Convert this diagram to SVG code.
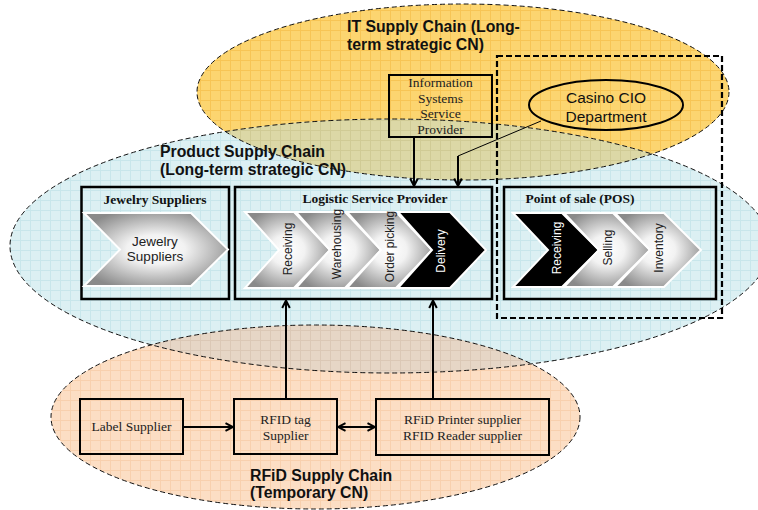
<svg xmlns="http://www.w3.org/2000/svg" width="758" height="510" viewBox="0 0 758 510">
<style>
.outline{fill:none;stroke:#111;stroke-width:1;stroke-dasharray:5,3}
.box{fill:none;stroke:#000;stroke-width:2.5}
.sbox{fill:none;stroke:#000;stroke-width:2}
.title{font-family:"Liberation Sans",Arial,sans-serif;font-weight:bold;font-size:15.8px;fill:#111}
.btitle{font-family:"Liberation Serif","Times New Roman",serif;font-weight:bold;font-size:13.5px;fill:#111;text-anchor:middle}
.serif{font-family:"Liberation Serif","Times New Roman",serif;font-size:13.5px;fill:#222;text-anchor:middle}
.chev{fill:url(#grad);stroke:#fff;stroke-width:2}
.chevb{fill:#000;stroke:#fff;stroke-width:2}
.ct{font-family:"Liberation Sans",Arial,sans-serif;font-size:12px;fill:#222;text-anchor:middle}
.ctw{font-family:"Liberation Sans",Arial,sans-serif;font-size:12px;fill:#fff;text-anchor:middle}
.sans{font-family:"Liberation Sans",Arial,sans-serif;font-size:13.5px;fill:#222;text-anchor:middle}
</style>
<defs>
<pattern id="pY" patternUnits="userSpaceOnUse" width="10" height="10"><rect width="10" height="10" fill="#FCD570"/><path d="M0,0.5H10M0.5,0V10" stroke="#F7C555" stroke-width="1"/></pattern>
<pattern id="pB" patternUnits="userSpaceOnUse" width="10" height="10"><rect width="10" height="10" fill="#DCF0F3"/><path d="M0,0.5H10M0.5,0V10" stroke="#C8E6EB" stroke-width="1"/></pattern>
<pattern id="pO" patternUnits="userSpaceOnUse" width="10" height="10"><rect width="10" height="10" fill="#FCDEC4"/><path d="M0,0.5H10M0.5,0V10" stroke="#F8D0AE" stroke-width="1"/></pattern>
<pattern id="pYB" patternUnits="userSpaceOnUse" width="10" height="10"><rect width="10" height="10" fill="#DCD8A6"/><path d="M0,0.5H10M0.5,0V10" stroke="#D0CB95" stroke-width="1"/></pattern>
<pattern id="pBO" patternUnits="userSpaceOnUse" width="10" height="10"><rect width="10" height="10" fill="#E6D6C6"/><path d="M0,0.5H10M0.5,0V10" stroke="#DBC8B6" stroke-width="1"/></pattern>
<clipPath id="cB"><ellipse cx="390" cy="246" rx="380" ry="127"/></clipPath>
<radialGradient id="grad" cx="50%" cy="50%" r="58%"><stop offset="0" stop-color="#ffffff"/><stop offset="0.35" stop-color="#f2f2f2"/><stop offset="1" stop-color="#8a8a8a"/></radialGradient>
<marker id="arr" viewBox="0 0 10 10" refX="8.5" refY="5" markerWidth="10" markerHeight="10" markerUnits="userSpaceOnUse" orient="auto-start-reverse"><path d="M1,1.2 L8.5,5 L1,8.8" fill="none" stroke="#000" stroke-width="2"/></marker>
</defs>

<g id="chains">
<ellipse cx="463" cy="92" rx="266" ry="88" fill="url(#pY)"/>
<ellipse cx="390" cy="246" rx="380" ry="127" fill="url(#pB)"/>
<ellipse cx="315.5" cy="417" rx="264.5" ry="92" fill="url(#pO)"/>
<g clip-path="url(#cB)">
<ellipse cx="463" cy="92" rx="266" ry="88" fill="url(#pYB)"/>
<ellipse cx="315.5" cy="417" rx="264.5" ry="92" fill="url(#pBO)"/>
</g>
<ellipse class="outline" cx="463" cy="92" rx="266" ry="88"/>
<ellipse class="outline" cx="390" cy="246" rx="380" ry="127"/>
<ellipse class="outline" cx="315.5" cy="417" rx="264.5" ry="92"/>
<text class="title" x="347" y="32">IT Supply Chain (Long-</text>
<text class="title" x="347" y="50">term strategic CN)</text>
<text class="title" x="160" y="157">Product Supply Chain</text>
<text class="title" x="160" y="175">(Long-term strategic CN)</text>
<text class="title" x="250" y="481">RFiD Supply Chain</text>
<text class="title" x="250" y="498">(Temporary CN)</text>
</g>

<g id="cio-scope">
<rect x="497" y="56" width="225" height="262" fill="none" stroke="#000" stroke-width="2.2" stroke-dasharray="6,3"/>
</g>

<g id="casino-cio">
<ellipse cx="606" cy="105" rx="77" ry="25" fill="none" stroke="#000" stroke-width="2"/>
<text x="606" y="103" font-family="Liberation Sans, Arial, sans-serif" font-size="15.5" fill="#111" text-anchor="middle">Casino CIO</text>
<text x="606" y="121.5" font-family="Liberation Sans, Arial, sans-serif" font-size="15.5" fill="#111" text-anchor="middle">Department</text>
</g>

<g id="info-systems">
<rect class="sbox" x="389" y="75" width="103" height="62"/>
<text class="serif" x="440.5" y="87">Information</text>
<text class="serif" x="440.5" y="102.5">Systems</text>
<text class="serif" x="440.5" y="118">Service</text>
<text class="serif" x="440.5" y="134">Provider</text>
</g>

<g id="jewelry-suppliers">
<rect class="box" x="81.5" y="187" width="147.5" height="112"/>
<text class="btitle" x="155" y="204">Jewelry Suppliers</text>
<polygon class="chev" points="84,213 191,213 228,249.5 191,286 84,286 120,249.5"/>
<text class="sans" x="155" y="245.5">Jewelry</text>
<text class="sans" x="155" y="260.5">Suppliers</text>
</g>

<g id="logistic-service-provider">
<rect class="box" x="235" y="187" width="257" height="112"/>
<text class="btitle" x="375" y="203">Logistic Service Provider</text>
<polygon class="chev" points="245,212 294,212 330,250 294,288 245,288 279,250"/>
<polygon class="chev" points="296,212 345,212 381,250 345,288 296,288 330,250"/>
<polygon class="chev" points="347,212 396,212 432,250 396,288 347,288 381,250"/>
<polygon class="chevb" points="398,212 450,212 486,250 450,288 398,288 432,250"/>
<text class="ct" transform="translate(291.5,249) rotate(-90)">Receiving</text>
<text class="ct" transform="translate(341,244) rotate(-90)">Warehousing</text>
<text class="ct" transform="translate(393.5,246.5) rotate(-90)">Order picking</text>
<text class="ctw" transform="translate(444.5,251) rotate(-90)">Delivery</text>
</g>

<g id="point-of-sale">
<rect class="box" x="504" y="187" width="212" height="112"/>
<text class="btitle" x="580" y="202.5">Point of sale (POS)</text>
<polygon class="chevb" points="513,213 562,213 599,250 562,287 513,287 548,250"/>
<polygon class="chev" points="564,213 613,213 650,250 613,287 564,287 599,250"/>
<polygon class="chev" points="615,213 664,213 701,250 664,287 615,287 650,250"/>
<text class="ctw" transform="translate(560.5,248) rotate(-90)">Receiving</text>
<text class="ct" transform="translate(611.5,247.5) rotate(-90)">Selling</text>
<text class="ct" transform="translate(662.5,248) rotate(-90)">Inventory</text>
</g>

<g id="label-supplier">
<rect class="sbox" x="80" y="399" width="103" height="55"/>
<text class="serif" x="131.5" y="431">Label Supplier</text>
</g>

<g id="rfid-tag-supplier">
<rect class="sbox" x="234" y="399" width="103" height="55"/>
<text class="serif" x="285.5" y="424">RFID tag</text>
<text class="serif" x="285.5" y="439.5">Supplier</text>
</g>

<g id="rfid-printer-reader">
<rect class="sbox" x="376" y="399" width="173" height="56"/>
<text class="serif" x="462.5" y="424">RFiD Printer supplier</text>
<text class="serif" x="462.5" y="439.5">RFID Reader supplier</text>
</g>

<g id="connectors" fill="none" stroke="#000" stroke-width="2">
<line x1="414" y1="137" x2="414" y2="186" marker-end="url(#arr)"/>
<line x1="541" y1="121" x2="458" y2="156" stroke-width="1"/>
<line x1="458" y1="156" x2="458" y2="186" marker-end="url(#arr)"/>
<line x1="286" y1="399" x2="286" y2="300.5" marker-end="url(#arr)"/>
<line x1="433" y1="399" x2="433" y2="300.5" marker-end="url(#arr)"/>
<line x1="183" y1="427" x2="233" y2="427" marker-end="url(#arr)"/>
<line x1="338" y1="427" x2="375" y2="427" marker-start="url(#arr)" marker-end="url(#arr)"/>
</g>
</svg>
